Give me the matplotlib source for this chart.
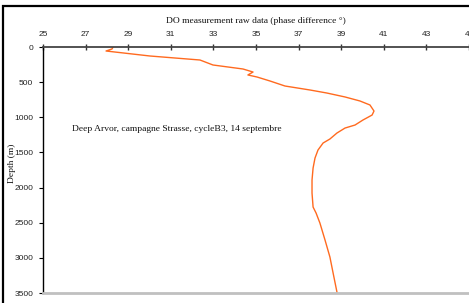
import matplotlib
matplotlib.use("Agg")
import matplotlib.pyplot as plt
from matplotlib.patches import Rectangle

phase = [28.29, 28.24, 27.96, 30.02, 32.37, 32.98, 34.39, 34.86, 34.62, 35.05,
         35.66, 36.36, 37.54, 38.33, 39.18, 39.88, 40.35, 40.54, 40.45, 40.02,
         39.65, 39.18, 38.80, 38.47, 38.15, 37.91, 37.77, 37.68, 37.63, 37.63,
         37.68, 37.82, 38.00, 38.24, 38.47, 38.62, 38.80]
depth = [0, 28, 57, 128, 185, 256, 313, 356, 398, 427,
         484, 555, 612, 655, 711, 768, 825, 911, 968, 1039,
         1110, 1153, 1224, 1309, 1366, 1466, 1580, 1722, 1893, 2078,
         2277, 2362, 2504, 2746, 2988, 3216, 3486]
xticks = [25, 27, 29, 31, 33, 35, 37, 39, 41, 43, 45]
yticks = [0, 500, 1000, 1500, 2000, 2500, 3000, 3500]

W, H = 469, 303
fig = plt.figure(figsize=(W/100, H/100), dpi=100)
ax = fig.add_axes([43/W, 1-293/H, 1-43/W, (293-47)/H])

ax.plot(phase, depth, color='#ff6a1f', lw=1.0)
ax.set_xlim(25, 45)
ax.set_ylim(3500, 0)
ax.xaxis.tick_top()
ax.xaxis.set_label_position('top')
ax.set_xticks(xticks)
ax.set_yticks(yticks)
ax.tick_params(axis='x', direction='inout', length=5, width=1, colors='#333333',
               labelsize=6, pad=4, labelcolor='#222222')
ax.tick_params(axis='y', direction='out', length=3, width=0.8, colors='black',
               labelsize=6, pad=4, labelcolor='#222222')
for lab in ax.get_xticklabels() + ax.get_yticklabels():
    lab.set_fontfamily('Liberation Sans')

ax.spines['right'].set_visible(False)
ax.spines['top'].set_color('#444444')
ax.spines['top'].set_linewidth(1.3)
ax.spines['left'].set_color('black')
ax.spines['left'].set_linewidth(1.0)
ax.spines['bottom'].set_color('#c0c0c0')
ax.spines['bottom'].set_linewidth(2.0)

ax.set_xlabel('DO measurement raw data (phase difference °)', family='Liberation Serif',
              fontsize=6.8, labelpad=6, color='#111111')
fig.text(12/W, 1-163/H, 'Depth (m)', rotation=90, family='Liberation Serif',
         fontsize=6.8, ha='center', va='center', color='#111111')
fig.text(72/W, 1-129/H, 'Deep Arvor, campagne Strasse, cycleB3, 14 septembre',
         family='Liberation Serif', fontsize=6.8, ha='left', va='center', color='#111111')

fig.patches.append(Rectangle((3/W, -0.2), 1.3, 0.2 + (H-6)/H, transform=fig.transFigure,
                             fill=False, edgecolor='black', lw=1.6, clip_on=False))

fig.savefig('out.png', dpi=100)
